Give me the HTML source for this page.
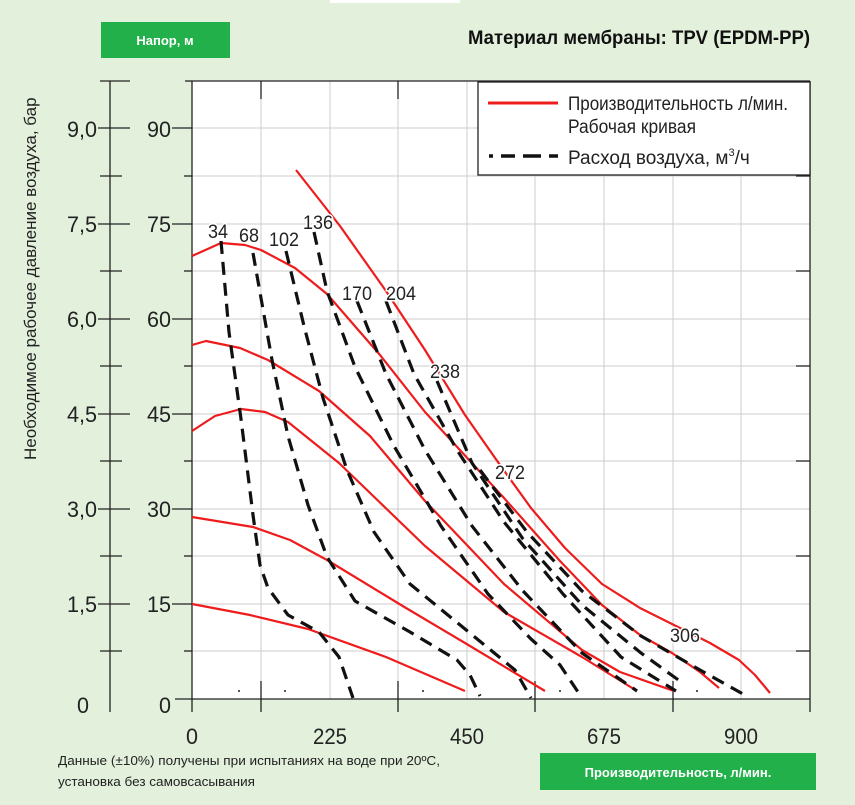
<!DOCTYPE html>
<html><head><meta charset="utf-8"><style>
body{margin:0;width:855px;height:800px;background:#e2f0dc;overflow:hidden;font-family:"Liberation Sans",sans-serif}
</style></head><body>
<svg width="855" height="800" xmlns="http://www.w3.org/2000/svg" font-family="Liberation Sans, sans-serif">
<rect x="0" y="0" width="855" height="800" fill="#e2f0dc"/>
<rect x="330" y="0" width="130" height="3" fill="#fff"/>
<rect x="101" y="22" width="129" height="36" fill="#22b04b"/>
<text x="165" y="45" font-size="13" font-weight="bold" fill="#fff" text-anchor="middle">Напор, м</text>
<text x="810" y="44" font-size="19" font-weight="bold" fill="#111" text-anchor="end" textLength="342" lengthAdjust="spacingAndGlyphs">Материал мембраны: TPV (EPDM-PP)</text>
<rect x="192" y="81" width="618" height="618" fill="#fff"/>
<g stroke="#ccc" stroke-width="1">
<line x1="261" y1="81" x2="261" y2="699"/><line x1="330" y1="81" x2="330" y2="699"/><line x1="398" y1="81" x2="398" y2="699"/><line x1="467" y1="81" x2="467" y2="699"/><line x1="535" y1="81" x2="535" y2="699"/><line x1="604" y1="81" x2="604" y2="699"/><line x1="673" y1="81" x2="673" y2="699"/><line x1="741" y1="81" x2="741" y2="699"/>
<line x1="192" y1="128" x2="810" y2="128"/><line x1="192" y1="176" x2="810" y2="176"/><line x1="192" y1="224" x2="810" y2="224"/><line x1="192" y1="271" x2="810" y2="271"/><line x1="192" y1="319" x2="810" y2="319"/><line x1="192" y1="366" x2="810" y2="366"/><line x1="192" y1="414" x2="810" y2="414"/><line x1="192" y1="461" x2="810" y2="461"/><line x1="192" y1="509" x2="810" y2="509"/><line x1="192" y1="556" x2="810" y2="556"/><line x1="192" y1="604" x2="810" y2="604"/><line x1="192" y1="651" x2="810" y2="651"/>
</g>
<g stroke="#222" stroke-width="1.3" fill="none">
<line x1="192" y1="81" x2="810" y2="81"/><line x1="192" y1="81" x2="192" y2="712"/><line x1="175" y1="699" x2="810" y2="699"/>
<line x1="810" y1="81" x2="810" y2="712"/>
<line x1="261" y1="81" x2="261" y2="99"/><line x1="398" y1="81" x2="398" y2="99"/><line x1="535" y1="81" x2="535" y2="99"/><line x1="673" y1="81" x2="673" y2="99"/>
<line x1="261" y1="681" x2="261" y2="712"/><line x1="398" y1="681" x2="398" y2="712"/><line x1="535" y1="681" x2="535" y2="712"/><line x1="673" y1="681" x2="673" y2="712"/>
<line x1="110" y1="81" x2="110" y2="712"/>
<line x1="100" y1="81" x2="130" y2="81"/><line x1="185" y1="81" x2="192" y2="81"/>
<line x1="98" y1="128" x2="130" y2="128"/><line x1="172" y1="128" x2="192" y2="128"/>
<line x1="98" y1="224" x2="130" y2="224"/><line x1="172" y1="224" x2="192" y2="224"/>
<line x1="98" y1="319" x2="130" y2="319"/><line x1="172" y1="319" x2="192" y2="319"/>
<line x1="98" y1="414" x2="130" y2="414"/><line x1="172" y1="414" x2="192" y2="414"/>
<line x1="98" y1="509" x2="130" y2="509"/><line x1="172" y1="509" x2="192" y2="509"/>
<line x1="98" y1="604" x2="130" y2="604"/><line x1="172" y1="604" x2="192" y2="604"/>
<line x1="100" y1="176" x2="122" y2="176"/><line x1="100" y1="271" x2="122" y2="271"/><line x1="100" y1="366" x2="122" y2="366"/><line x1="100" y1="461" x2="122" y2="461"/><line x1="100" y1="556" x2="122" y2="556"/><line x1="100" y1="651" x2="122" y2="651"/>
<line x1="184" y1="176" x2="192" y2="176"/><line x1="184" y1="271" x2="192" y2="271"/><line x1="184" y1="366" x2="192" y2="366"/><line x1="184" y1="461" x2="192" y2="461"/><line x1="184" y1="556" x2="192" y2="556"/><line x1="184" y1="651" x2="192" y2="651"/>
<line x1="796" y1="176" x2="810" y2="176"/><line x1="796" y1="271" x2="810" y2="271"/><line x1="796" y1="366" x2="810" y2="366"/><line x1="796" y1="461" x2="810" y2="461"/><line x1="796" y1="556" x2="810" y2="556"/><line x1="796" y1="651" x2="810" y2="651"/>
</g>
<g font-size="22" fill="#222" text-anchor="end" lengthAdjust="spacingAndGlyphs">
<text x="97" y="137" textLength="30" lengthAdjust="spacingAndGlyphs">9,0</text><text x="171" y="137" textLength="24" lengthAdjust="spacingAndGlyphs">90</text>
<text x="97" y="232" textLength="30" lengthAdjust="spacingAndGlyphs">7,5</text><text x="171" y="232" textLength="24" lengthAdjust="spacingAndGlyphs">75</text>
<text x="97" y="327" textLength="30" lengthAdjust="spacingAndGlyphs">6,0</text><text x="171" y="327" textLength="24" lengthAdjust="spacingAndGlyphs">60</text>
<text x="97" y="422" textLength="30" lengthAdjust="spacingAndGlyphs">4,5</text><text x="171" y="422" textLength="24" lengthAdjust="spacingAndGlyphs">45</text>
<text x="97" y="517" textLength="30" lengthAdjust="spacingAndGlyphs">3,0</text><text x="171" y="517" textLength="24" lengthAdjust="spacingAndGlyphs">30</text>
<text x="97" y="612" textLength="30" lengthAdjust="spacingAndGlyphs">1,5</text><text x="171" y="612" textLength="24" lengthAdjust="spacingAndGlyphs">15</text>
<text x="89" y="713" textLength="12" lengthAdjust="spacingAndGlyphs">0</text><text x="171" y="713" textLength="12" lengthAdjust="spacingAndGlyphs">0</text>
</g>
<g font-size="22" fill="#222" text-anchor="middle">
<text x="192" y="744" textLength="12" lengthAdjust="spacingAndGlyphs">0</text><text x="330" y="744" textLength="34" lengthAdjust="spacingAndGlyphs">225</text><text x="467" y="744" textLength="34" lengthAdjust="spacingAndGlyphs">450</text><text x="604" y="744" textLength="34" lengthAdjust="spacingAndGlyphs">675</text><text x="741" y="744" textLength="34" lengthAdjust="spacingAndGlyphs">900</text>
</g>
<text transform="translate(36,460) rotate(-90)" font-size="17" fill="#222">Необходимое рабочее давление воздуха, бар</text>
<g fill="none" stroke="#ee1c1c" stroke-width="2.2" stroke-linejoin="round">
<polyline points="192,604 250,615 308,629 386,657 465,691"/>
<polyline points="192,517 253,527 290,540 327,560 406,608 465,643 545,691"/>
<polyline points="192,431 215,416 241,409 265,412 288,422 339,463 425,546 504,612 582,657 637,691"/>
<polyline points="192,345 206,341 240,348 268,360 319,391 370,436 425,501 504,584 582,650 620,672 674,691"/>
<polyline points="192,256 221,243 245,245 261,250 295,268 327,294 380,355 425,412 504,498 560,561 602,605 640,635 672,653 700,672 719,688"/>
<polyline points="296,170 340,226 386,291 425,350 465,415 500,465 531,508 565,548 602,584 640,608 668,622 710,643 739,660 755,675 770,693"/>
</g>
<g fill="none" stroke="#111" stroke-width="3.2" stroke-dasharray="13,8" stroke-linejoin="round">
<polyline points="221,241 229,332 241,419 253,515 260,565 268,588 288,615 319,632 339,657 353,698"/>
<polyline points="253,253 272,360 288,436 308,505 327,557 355,601 410,632 457,660 470,675 480,696"/>
<polyline points="286,251 304,326 323,398 347,470 374,532 410,584 465,629 515,670 531,698"/>
<polyline points="314,232 327,291 355,367 394,446 441,526 488,594 531,639 560,665 582,698"/>
<polyline points="357,301 386,374 425,450 472,526 523,591 582,653 637,691"/>
<polyline points="386,301 414,374 457,450 504,522 563,594 621,657 676,691"/>
<polyline points="437,381 472,463 523,539 582,605 641,653 684,684"/>
<polyline points="480,470 527,532 582,591 641,636 700,670 743,694"/>
</g>
<g fill="#222">
<circle cx="239" cy="691" r="1"/><circle cx="285" cy="691" r="1"/><circle cx="423" cy="691" r="1"/><circle cx="560" cy="691" r="1"/><circle cx="697" cy="691" r="1"/>
</g>
<g font-size="19" fill="#222" text-anchor="middle" stroke="#fff" stroke-width="3" paint-order="stroke">
<text x="218" y="238" textLength="20" lengthAdjust="spacingAndGlyphs">34</text><text x="249" y="242" textLength="20" lengthAdjust="spacingAndGlyphs">68</text><text x="284" y="246" textLength="30" lengthAdjust="spacingAndGlyphs">102</text><text x="318" y="229" textLength="30" lengthAdjust="spacingAndGlyphs">136</text>
<text x="357" y="300" textLength="30" lengthAdjust="spacingAndGlyphs">170</text><text x="401" y="300" textLength="30" lengthAdjust="spacingAndGlyphs">204</text><text x="445" y="378" textLength="30" lengthAdjust="spacingAndGlyphs">238</text><text x="510" y="479" textLength="30" lengthAdjust="spacingAndGlyphs">272</text><text x="685" y="642" textLength="30" lengthAdjust="spacingAndGlyphs">306</text>
</g>
<rect x="478" y="82" width="332" height="93" fill="#fff" stroke="#222" stroke-width="1.3"/>
<line x1="488" y1="103" x2="558" y2="103" stroke="#ee1c1c" stroke-width="3"/>
<line x1="489" y1="156" x2="558" y2="156" stroke="#111" stroke-width="3.5" stroke-dasharray="4,8,14,8,14,0"/>
<text x="568" y="110" font-size="19" fill="#222" textLength="220" lengthAdjust="spacingAndGlyphs">Производительность л/мин.</text>
<text x="568" y="133" font-size="19" fill="#222" textLength="128" lengthAdjust="spacingAndGlyphs">Рабочая кривая</text>
<text x="568" y="164" font-size="19" fill="#222">Расход воздуха, м<tspan font-size="11" dy="-8">3</tspan><tspan dy="8">/ч</tspan></text>
<text x="58" y="765" font-size="13" fill="#222" textLength="382" lengthAdjust="spacingAndGlyphs">Данные (±10%) получены при испытаниях на воде при 20ºС,</text>
<text x="58" y="786" font-size="13" fill="#222" textLength="197" lengthAdjust="spacingAndGlyphs">установка без самовсасывания</text>
<rect x="540" y="753" width="276" height="37" fill="#22b04b"/>
<text x="678" y="777" font-size="13" font-weight="bold" fill="#fff" text-anchor="middle">Производительность, л/мин.</text>
</svg>
</body></html>
